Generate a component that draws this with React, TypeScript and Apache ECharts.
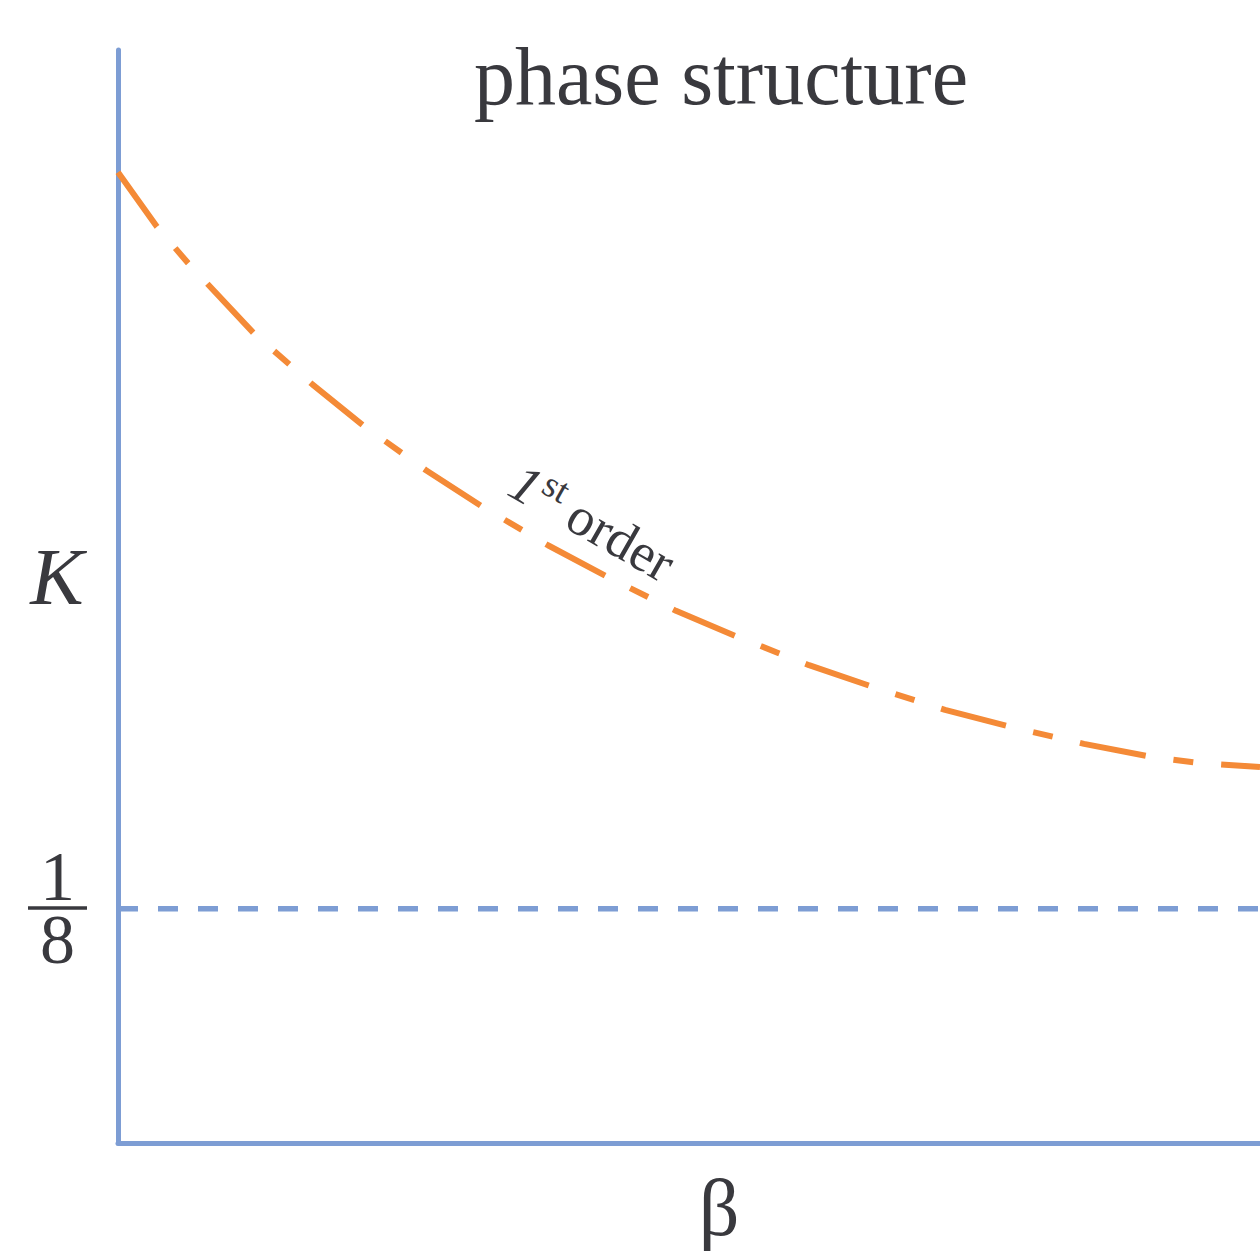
import { useEffect, useRef } from "react";
import * as echarts from "echarts";

// ---- data ----
const betaValues = [0, 0.341, 0.613, 1.191, 1.699, 2.154, 2.697, 3.196, 3.765, 4.291, 4.886, 5.429, 6.051, 6.611, 7.242, 7.82, 8.459, 9.054, 9.466, 10];
const kFirstOrder = [0.518, 0.489, 0.4696, 0.432, 0.405, 0.3826, 0.359, 0.3394, 0.319, 0.302, 0.284, 0.27, 0.255, 0.2434, 0.2311, 0.222, 0.213, 0.206, 0.2028, 0.2007];
const thresholdBeta = [0, 10];
const thresholdK = 0.125;
const betaRange = [0, 10];
const kRange = [0, 0.5833];

const titleText = "phase structure";
const yAxisName = "K";
const xAxisName = "β";
const thresholdNumerator = "1";
const thresholdDenominator = "8";
const curveLabelOrdinal = "1";
const curveLabelSup = "st";
const curveLabelWord = "order";

const BLUE = "#7d9dd4";
const ORANGE = "#f48a37";
const TEXT = "#39393e";
const SERIF = "'Liberation Serif', 'Times New Roman', serif";

export default function App() {
  const ref = useRef<HTMLDivElement | null>(null);

  useEffect(() => {
    if (!ref.current) return;
    const chart = echarts.init(ref.current, undefined, { renderer: "svg" });

    const curveData = betaValues.map((b, i) => [b, kFirstOrder[i]]);
    const thresholdData = thresholdBeta.map((b) => [b, thresholdK]);

    const mid = (baseline: number, size: number) => baseline - 0.34 * size;

    chart.setOption({
      animation: false,
      backgroundColor: "#ffffff",
      grid: { left: 118, right: 0, top: 50, bottom: 108 },
      xAxis: {
        type: "value",
        min: betaRange[0],
        max: betaRange[1],
        axisLine: { show: true, lineStyle: { color: BLUE, width: 5 } },
        axisTick: { show: false },
        axisLabel: { show: false },
        splitLine: { show: false },
      },
      yAxis: {
        type: "value",
        min: kRange[0],
        max: kRange[1],
        axisLine: { show: true, lineStyle: { color: BLUE, width: 5 } },
        axisTick: { show: false },
        axisLabel: { show: false },
        splitLine: { show: false },
      },
      series: [
        {
          type: "line",
          data: thresholdData,
          showSymbol: false,
          lineStyle: { color: BLUE, width: 5.5, type: [20, 20] },
          z: 1,
        },
        {
          type: "line",
          data: curveData,
          showSymbol: false,
          smooth: false,
          lineStyle: { color: ORANGE, width: 6, type: [67, 28, 20, 28] },
          z: 3,
        },
      ],
      graphic: [
        {
          type: "text",
          x: 721,
          y: mid(104, 82),
          style: { text: titleText, font: `82px ${SERIF}`, fill: TEXT, align: "center", verticalAlign: "middle" },
        },
        {
          type: "text",
          x: 57,
          y: mid(604, 80),
          style: { text: yAxisName, font: `italic 80px ${SERIF}`, fill: TEXT, align: "center", verticalAlign: "middle" },
        },
        {
          type: "text",
          x: 719,
          y: mid(1235, 80),
          style: { text: xAxisName, font: `80px ${SERIF}`, fill: TEXT, align: "center", verticalAlign: "middle" },
        },
        {
          type: "text",
          x: 57.5,
          y: 907.7,
          style: {
            text: thresholdNumerator + "\n" + thresholdDenominator,
            font: `70px ${SERIF}`,
            lineHeight: 63,
            fill: TEXT,
            align: "center",
            verticalAlign: "middle",
          },
        },
        {
          type: "line",
          shape: { x1: 28, y1: 908, x2: 87, y2: 908 },
          style: { stroke: TEXT, lineWidth: 3.5 },
        },
        {
          type: "group",
          x: 505,
          y: 494,
          rotation: -0.52,
          children: [
            {
              type: "text",
              x: 0,
              y: mid(0, 54),
              style: { text: curveLabelOrdinal, font: `italic 54px ${SERIF}`, fill: TEXT, align: "left", verticalAlign: "middle" },
            },
            {
              type: "text",
              x: 29,
              y: mid(-19, 37),
              style: { text: curveLabelSup, font: `37px ${SERIF}`, fill: TEXT, align: "left", verticalAlign: "middle" },
            },
            {
              type: "text",
              x: 66,
              y: mid(0, 54),
              style: { text: curveLabelWord, font: `54px ${SERIF}`, fill: TEXT, align: "left", verticalAlign: "middle" },
            },
          ],
        },
      ],
    });

    return () => chart.dispose();
  }, []);

  return (
    <div
      ref={ref}
      style={{ position: "fixed", left: 0, top: 0, width: 1260, height: 1251, background: "#fff" }}
    />
  );
}
